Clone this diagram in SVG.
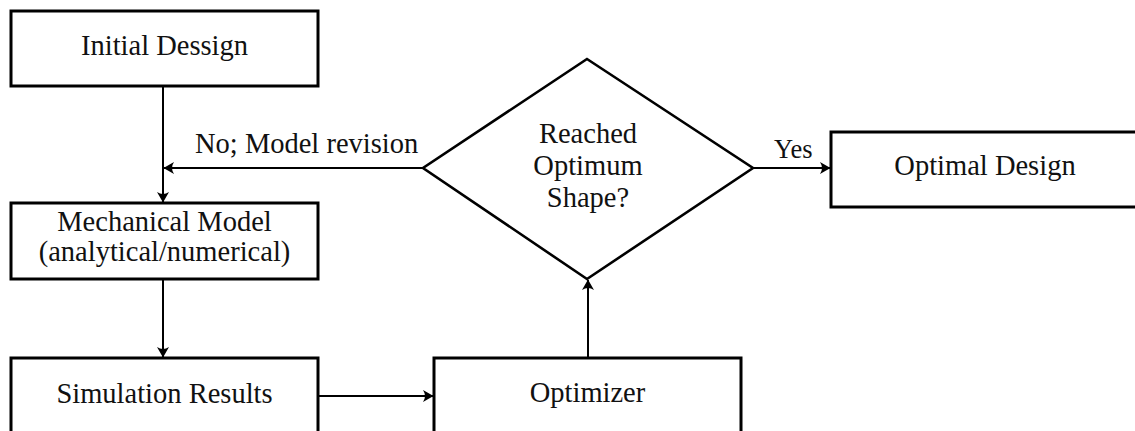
<svg xmlns="http://www.w3.org/2000/svg" width="1135" height="431" viewBox="0 0 1135 431">
<style>
.box{fill:#fff;stroke:#000;stroke-width:3}
.dia{fill:#fff;stroke:#000;stroke-width:2.6;stroke-linejoin:miter}
.t{font-family:"Liberation Serif","DejaVu Serif","Times New Roman",serif;font-size:28.5px;fill:#111;text-anchor:middle}
.lbl{font-family:"Liberation Serif","DejaVu Serif","Times New Roman",serif;font-size:28.5px;fill:#111}
.c{fill:none;stroke:#000;stroke-width:2;marker-end:url(#ah)}
</style>
<defs>
<marker id="ah" markerWidth="14" markerHeight="14" viewBox="-12 -7 14 14" refX="0" refY="0" orient="auto" markerUnits="userSpaceOnUse">
<path d="M0.5,0 L-10,-6 Q-6,0 -10,6 Z" fill="#000"/>
</marker>
</defs>
<rect width="1135" height="431" fill="#fff"/>
<g id="connectors">
<line class="c" x1="163" y1="87" x2="163" y2="202"/>
<line class="c" x1="423" y1="168" x2="164" y2="168"/>
<line class="c" x1="163" y1="280" x2="163" y2="357"/>
<line class="c" x1="319" y1="396" x2="433" y2="396"/>
<line class="c" x1="588" y1="357" x2="588" y2="280"/>
<line class="c" x1="753" y1="168" x2="830" y2="168"/>
<text class="lbl" x="195" y="153">No; Model revision</text>
<text class="lbl" x="774" y="158" style="font-size:26.5px">Yes</text>
</g>
<g id="initial">
<rect class="box" x="11" y="11" width="307" height="75"/>
<text class="t" x="164.5" y="55">Initial Dessign</text>
</g>
<g id="mechanical">
<rect class="box" x="11" y="203" width="307" height="76"/>
<text class="t" x="164.5" y="231">Mechanical Model</text>
<text class="t" x="164.5" y="261">(analytical/numerical)</text>
</g>
<g id="simulation">
<rect class="box" x="11" y="358" width="307" height="80"/>
<text class="t" x="164.5" y="403">Simulation Results</text>
</g>
<g id="optimizer">
<rect class="box" x="434" y="358" width="307" height="80"/>
<text class="t" x="587.5" y="402">Optimizer</text>
</g>
<g id="decision">
<polygon class="dia" points="587,59 753,168 587,279 423,168"/>
<text class="t" x="588" y="143">Reached</text>
<text class="t" x="588" y="175">Optimum</text>
<text class="t" x="588" y="207">Shape?</text>
</g>
<g id="optimal">
<rect class="box" x="831" y="132" width="310" height="75"/>
<text class="t" x="985" y="175">Optimal Design</text>
</g>
</svg>
